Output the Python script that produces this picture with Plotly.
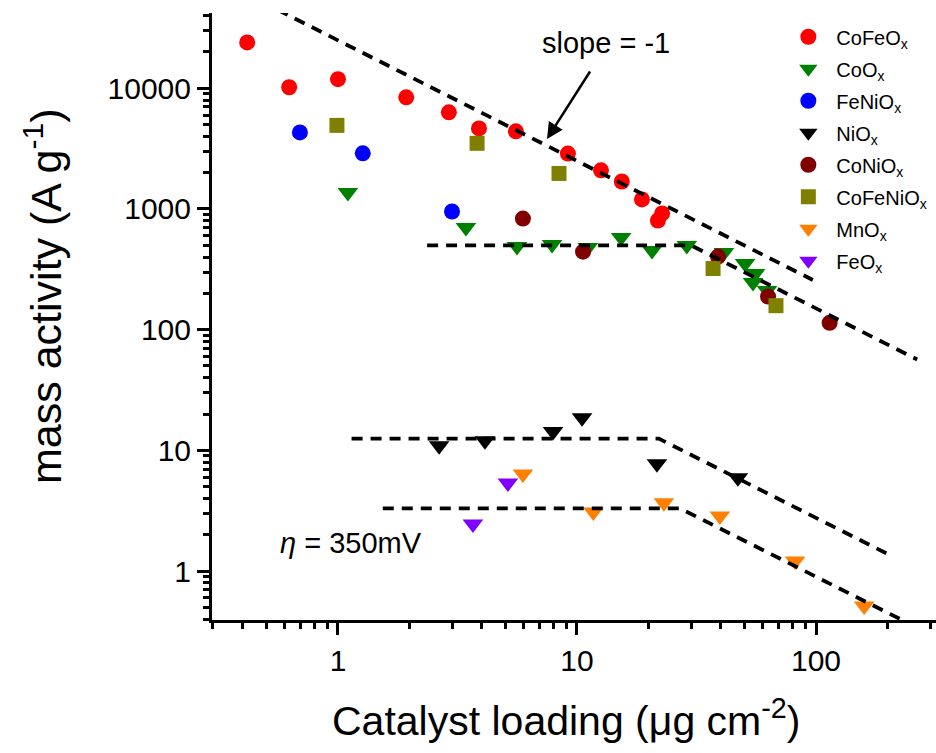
import math
import plotly.graph_objects as go

# ---------------- data ----------------
cofeox_x = [0.417, 0.625, 1.0, 1.93, 2.91, 3.89, 5.55, 9.16, 12.6, 15.4, 18.7, 21.8, 22.7]
cofeox_y = [24000, 10200, 11900, 8420, 6320, 4650, 4400, 2880, 2090, 1690, 1200, 803, 918]

coox_x = [1.10, 3.43, 5.61, 7.86, 11.1, 15.3, 20.6, 28.8, 41.2, 50.5, 55.6, 54.5, 62.4]
coox_y = [1370, 702, 489, 507, 479, 579, 453, 498, 435, 353, 292, 246, 211]

fenio_x = [0.693, 1.27, 3.0]
fenio_y = [4310, 2890, 953]

niox_x = [2.65, 4.12, 7.94, 10.5, 21.6, 47.1]
niox_y = [10.9, 12.0, 14.3, 18.6, 7.73, 5.92]

conio_x = [5.94, 10.6, 38.9, 63, 114]
conio_y = [833, 443, 403, 188, 114]

cofenio_x = [0.99, 3.82, 8.41, 37.1, 68]
cofenio_y = [4930, 3500, 1970, 321, 158]

mnox_x = [5.94, 11.7, 23.1, 39.6, 81.7, 159]
mnox_y = [6.38, 3.09, 3.67, 2.86, 1.21, 0.513]

feox_x = [5.14, 3.67]
feox_y = [5.37, 2.45]

# dashed guide lines
guide_slope_x = [0.56, 97]
guide_slope_y = [44600, 258]
guide_coox_x = [2.36, 30, 265]
guide_coox_y = [500, 500, 56.6]
guide_niox_x = [1.14, 22, 200]
guide_niox_y = [12.5, 12.5, 1.38]
guide_mnox_x = [1.54, 27, 250]
guide_mnox_y = [3.3, 3.3, 0.36]

x_tickvals = [1, 10, 100]
x_ticktext = ["1", "10", "100"]
y_tickvals = [1, 10, 100, 1000, 10000]
y_ticktext = ["1", "10", "100", "1000", "10000"]

FONT = "Liberation Sans, Arial, sans-serif"

series = [
    ("CoFeO<sub>x</sub>", cofeox_x, cofeox_y, "circle", "#FF0000", 16),
    ("CoO<sub>x</sub>", coox_x, coox_y, "triangle-down", "#008000", 18),
    ("FeNiO<sub>x</sub>", fenio_x, fenio_y, "circle", "#0000FF", 16),
    ("NiO<sub>x</sub>", niox_x, niox_y, "triangle-down", "#000000", 18),
    ("CoNiO<sub>x</sub>", conio_x, conio_y, "circle", "#800000", 16),
    ("CoFeNiO<sub>x</sub>", cofenio_x, cofenio_y, "square", "#808000", 15),
    ("MnO<sub>x</sub>", mnox_x, mnox_y, "triangle-down", "#FF8000", 18),
    ("FeO<sub>x</sub>", feox_x, feox_y, "triangle-down", "#8000FF", 18),
]

fig = go.Figure()
for i, (name, xs, ys, sym, col, sz) in enumerate(series):
    fig.add_trace(go.Scatter(
        x=xs, y=ys, mode="markers", name=name, legendgroup="g%d" % i,
        marker=dict(symbol=sym, color=col, size=sz, line=dict(width=0)),
    ))

for gx, gy in [(guide_slope_x, guide_slope_y), (guide_coox_x, guide_coox_y),
               (guide_niox_x, guide_niox_y), (guide_mnox_x, guide_mnox_y)]:
    fig.add_trace(go.Scatter(
        x=gx, y=gy, mode="lines", showlegend=False, hoverinfo="skip",
        line=dict(color="black", width=3.8, dash="11px,8px"),
    ))

x_minor = [m * 10 ** d for d in range(-1, 3) for m in range(2, 10) if 0.29 < m * 10 ** d < 320]
y_minor = [m * 10 ** d for d in range(-1, 5) for m in range(2, 10) if 0.39 < m * 10 ** d < 43000]

axis_common = dict(
    type="log", showgrid=False, zeroline=False, showline=True, linecolor="black",
    linewidth=3, ticks="outside", ticklen=12, tickwidth=3, tickcolor="black",
    tickfont=dict(family=FONT, size=30, color="black"), tickmode="array",
)

fig.update_xaxes(
    **axis_common, range=[-0.527, 2.502], tickvals=x_tickvals, ticktext=x_ticktext,
    minor=dict(tickmode="array", tickvals=x_minor, ticks="outside", ticklen=6, tickwidth=2.5, tickcolor="black"),
)
fig.update_yaxes(
    **axis_common, range=[-0.406, 4.624], tickvals=y_tickvals, ticktext=y_ticktext,
    minor=dict(tickmode="array", tickvals=y_minor, ticks="outside", ticklen=6, tickwidth=2.5, tickcolor="black"),
)

# axis titles placed as paper annotations
fig.add_annotation(x=(566 - 212) / 724, y=(620 - 718) / 607, xref="paper", yref="paper",
                   text="Catalyst loading (\u03bcg cm<sup>-2</sup>)", showarrow=False,
                   xanchor="center", yanchor="middle",
                   font=dict(family=FONT, size=41, color="black"))
fig.add_annotation(x=(43 - 212) / 724, y=(620 - 296) / 607, xref="paper", yref="paper",
                   text="mass activity (A g<sup>-1</sup>)", showarrow=False, textangle=-90,
                   xanchor="center", yanchor="middle",
                   font=dict(family=FONT, size=43, color="black"))

fig.add_annotation(x=1.121, y=4.375, xref="x", yref="y", text="slope = -1", showarrow=False,
                   font=dict(family=FONT, size=29, color="black"))
fig.add_annotation(x=math.log10(7.49), y=math.log10(3800), xref="x", yref="y", text="",
                   showarrow=True, ax=44, ay=-69, arrowhead=2, arrowsize=1.3, arrowwidth=2.5,
                   arrowcolor="black")
fig.add_annotation(x=-0.251, y=0.233, xref="x", yref="y", xanchor="left",
                   text="<i>\u03b7</i> = 350mV", showarrow=False,
                   font=dict(family=FONT, size=29, color="black"))

fig.update_layout(
    width=936, height=753, paper_bgcolor="white", plot_bgcolor="white",
    margin=dict(l=212, r=0, t=13, b=133),
    font=dict(family=FONT, color="black"),
    legend=dict(x=0.785, y=0.993, xanchor="left", yanchor="top", bgcolor="rgba(0,0,0,0)",
                font=dict(family=FONT, size=20, color="black"), itemwidth=46,
                tracegroupgap=3),
    showlegend=True,
)

fig.write_html("out.html")
